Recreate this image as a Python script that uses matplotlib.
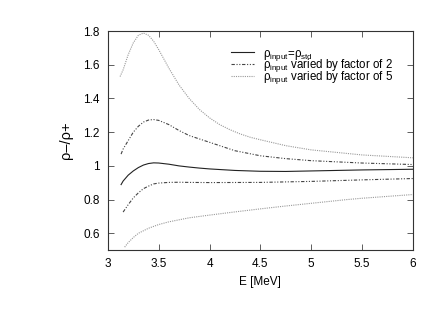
import matplotlib
matplotlib.use("Agg")
import matplotlib.pyplot as plt

plt.rcParams['font.family'] = ['Liberation Sans', 'DejaVu Sans']
plt.rcParams['mathtext.fontset'] = 'custom'
plt.rcParams['mathtext.rm'] = 'Liberation Sans'
plt.rcParams['mathtext.it'] = 'Liberation Sans'
plt.rcParams['mathtext.sf'] = 'Liberation Sans'

# data
x_f5_up = [3.12, 3.15, 3.2, 3.25, 3.3, 3.35, 3.4, 3.45, 3.5, 3.6, 3.7, 3.8, 3.9, 4.0, 4.1, 4.2, 4.3, 4.4, 4.5, 4.75, 5.0, 5.5, 6.0]
y_f5_up = [1.53, 1.57, 1.66, 1.73, 1.775, 1.788, 1.775, 1.74, 1.69, 1.58, 1.48, 1.40, 1.335, 1.285, 1.245, 1.215, 1.19, 1.17, 1.155, 1.12, 1.095, 1.065, 1.048]

x_f2_up = [3.13, 3.15, 3.2, 3.25, 3.3, 3.35, 3.4, 3.45, 3.5, 3.6, 3.7, 3.8, 3.9, 4.0, 4.25, 4.5, 4.75, 5.0, 5.5, 6.0]
y_f2_up = [1.07, 1.10, 1.15, 1.20, 1.235, 1.26, 1.272, 1.275, 1.27, 1.245, 1.21, 1.18, 1.16, 1.14, 1.09, 1.06, 1.043, 1.031, 1.017, 1.008]

x_std = [3.13, 3.15, 3.2, 3.25, 3.3, 3.35, 3.4, 3.45, 3.5, 3.6, 3.7, 3.8, 3.9, 4.0, 4.25, 4.5, 4.75, 5.0, 5.5, 6.0]
y_std = [0.889, 0.91, 0.945, 0.97, 0.99, 1.005, 1.014, 1.018, 1.017, 1.01, 1.0, 0.993, 0.987, 0.982, 0.973, 0.968, 0.967, 0.970, 0.976, 0.98]

x_f2_dn = [3.15, 3.2, 3.25, 3.3, 3.35, 3.4, 3.45, 3.5, 3.6, 3.7, 3.8, 4.0, 4.5, 5.0, 5.5, 6.0]
y_f2_dn = [0.726, 0.77, 0.81, 0.84, 0.865, 0.88, 0.893, 0.898, 0.902, 0.903, 0.902, 0.901, 0.902, 0.908, 0.917, 0.925]

x_f5_dn = [3.165, 3.2, 3.25, 3.3, 3.35, 3.4, 3.45, 3.5, 3.6, 3.7, 3.8, 3.9, 4.0, 4.25, 4.5, 4.75, 5.0, 5.35, 5.5, 6.0]
y_f5_dn = [0.518, 0.545, 0.575, 0.60, 0.615, 0.63, 0.641, 0.652, 0.668, 0.68, 0.692, 0.70, 0.708, 0.727, 0.745, 0.762, 0.778, 0.80, 0.808, 0.83]

x_ticks = [3, 3.5, 4, 4.5, 5, 5.5, 6]
x_ticklabels = ['3', '3.5', '4', '4.5', '5', '5.5', '6']
y_ticks = [0.6, 0.8, 1.0, 1.2, 1.4, 1.6, 1.8]
y_ticklabels = ['0.6', '0.8', '1', '1.2', '1.4', '1.6', '1.8']

fig = plt.figure(figsize=(4.23, 3.27), dpi=100)
ax = fig.add_axes([0.255, 0.235, 0.721, 0.670])

c_std = '#222222'
c_f2 = '#444444'
c_f5 = '#999999'
lw = 0.8
dashdot = (0, (3, 1.5, 1, 1.5, 1, 1.5))
dotted = (0, (1, 1))

ax.plot(x_std, y_std, color=c_std, lw=lw, ls='-', label=r'$\rho_{\mathrm{input}}$=$\rho_{\mathrm{std}}$')
ax.plot(x_f2_up, y_f2_up, color=c_f2, lw=lw, ls=dashdot, label=r'$\rho_{\mathrm{input}}$ varied by factor of 2')
ax.plot(x_f2_dn, y_f2_dn, color=c_f2, lw=lw, ls=dashdot)
ax.plot(x_f5_up, y_f5_up, color=c_f5, lw=lw, ls=dotted, label=r'$\rho_{\mathrm{input}}$ varied by factor of 5')
ax.plot(x_f5_dn, y_f5_dn, color=c_f5, lw=lw, ls=dotted)

ax.set_xlim(3, 6)
ax.set_ylim(0.5, 1.8)
ax.set_xticks(x_ticks)
ax.set_xticklabels(x_ticklabels)
ax.set_yticks(y_ticks)
ax.set_yticklabels(y_ticklabels)
ax.tick_params(direction='in', top=True, right=True, labelsize=8.5, length=4, width=0.6, pad=6, color='#444444')
for s in ax.spines.values():
    s.set_linewidth(0.8)
    s.set_color('#333333')

ax.set_xlabel('E [MeV]', fontsize=8.5, labelpad=4)
ax.set_ylabel('ρ–/ρ+', fontsize=10.5, labelpad=7)

leg = ax.legend(loc='upper right', bbox_to_anchor=(0.935, 0.925), fontsize=8.3, frameon=False,
                handlelength=2.0, handletextpad=0.8, labelspacing=-0.45, borderaxespad=0, borderpad=0)

fig.savefig('out.png', dpi=100)
